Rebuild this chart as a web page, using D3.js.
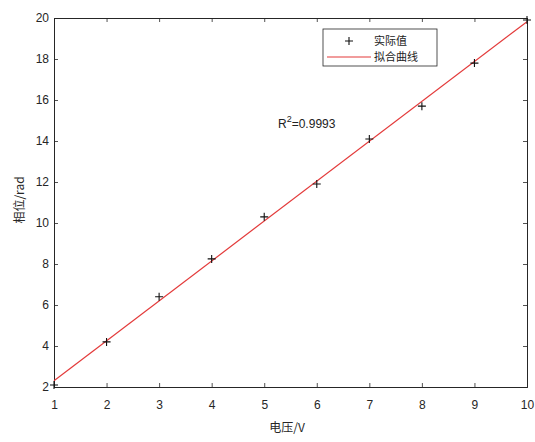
<!DOCTYPE html>
<html>
<head>
<meta charset="utf-8">
<script src="https://cdn.jsdelivr.net/npm/d3@7"></script>
<style>
  body { margin: 0; background: #fff; }
  text { font-family: "Liberation Sans", Arial, sans-serif; }
</style>
</head>
<body>
<svg width="535" height="442"></svg>
<script>
// Measured points (voltage vs phase)
const voltage = [1, 2, 3, 4, 5, 6, 7, 8, 9, 10];
const phase = [2.1, 4.2, 6.4, 8.25, 10.3, 11.9, 14.1, 15.7, 17.8, 19.9];
const xTicks = [1, 2, 3, 4, 5, 6, 7, 8, 9, 10];
const yTicks = [2, 4, 6, 8, 10, 12, 14, 16, 18, 20];
const legendLabels = ["实际值", "拟合曲线"];
const r2Label = "0.9993";

const svg = d3.select('svg');
const margin = { top: 18, right: 8, bottom: 55, left: 54 };
const width = +svg.attr('width') - margin.left - margin.right;
const height = +svg.attr('height') - margin.top - margin.bottom;

const xScale = d3.scaleLinear().domain([1, 10]).range([0, width]);
const yScale = d3.scaleLinear().domain([2, 20]).range([height, 0]);

const g = svg.append("g")
  .attr("transform", `translate(${margin.left}, ${margin.top})`);

// Least squares fit of the measured points
const mx = d3.mean(voltage), my = d3.mean(phase);
const sxy = d3.sum(voltage, (x, i) => (x - mx) * (phase[i] - my));
const sxx = d3.sum(voltage, x => (x - mx) * (x - mx));
const slope = sxy / sxx;
const intercept = my - slope * mx;

const axisColor = "#262626";

// Axes (box style with ticks on all sides)
const xAxis = g.append("g")
  .attr("transform", `translate(0, ${height})`)
  .call(d3.axisBottom(xScale).tickValues(xTicks).tickSize(-4).tickPadding(13));
const yAxis = g.append("g")
  .call(d3.axisLeft(yScale).tickValues(yTicks).tickSize(-4).tickPadding(5));
const xTop = g.append("g")
  .call(d3.axisTop(xScale).tickValues(xTicks).tickSize(-4).tickFormat(""));
const yRight = g.append("g")
  .attr("transform", `translate(${width}, 0)`)
  .call(d3.axisRight(yScale).tickValues(yTicks).tickSize(-4).tickFormat(""));

[xAxis, yAxis, xTop, yRight].forEach(a => {
  a.selectAll("path").attr("stroke", axisColor).attr("stroke-width", 1);
  a.selectAll("line").attr("stroke", axisColor).attr("stroke-width", 0.8);
  a.selectAll("text").attr("fill", axisColor).style("font-size", "12px");
});

// Fit line
g.append("line")
  .attr("x1", xScale(1)).attr("y1", yScale(slope * 1 + intercept))
  .attr("x2", xScale(10)).attr("y2", yScale(slope * 10 + intercept))
  .attr("stroke", "#e33a3a")
  .attr("stroke-width", 1.2);

// Data markers '+'
const ms = 4;
g.selectAll(".pt").data(voltage).enter().append("path")
  .attr("class", "pt")
  .attr("d", `M${-ms},0H${ms}M0,${-ms}V${ms}`)
  .attr("transform", (d, i) => `translate(${xScale(d)}, ${yScale(phase[i])})`)
  .attr("stroke", "#111")
  .attr("stroke-width", 1.1);

// R^2 annotation
const r2 = g.append("text")
  .attr("x", 278 - margin.left)
  .attr("y", 128 - margin.top)
  .attr("fill", "#222")
  .style("font-size", "12px");
r2.append("tspan").text("R");
r2.append("tspan").attr("dy", -6).style("font-size", "9px").text("2");
r2.append("tspan").attr("dy", 6).text("=" + r2Label);

// Legend
const lg = svg.append("g").attr("transform", "translate(323, 29)");
lg.append("rect")
  .attr("width", 114).attr("height", 37)
  .attr("fill", "#fff").attr("stroke", axisColor).attr("stroke-width", 0.8);
lg.append("path")
  .attr("d", `M${26 - ms},12H${26 + ms}M26,${12 - ms}V${12 + ms}`)
  .attr("stroke", "#111").attr("stroke-width", 1.1);
lg.append("line")
  .attr("x1", 4).attr("x2", 48).attr("y1", 28).attr("y2", 28)
  .attr("stroke", "#e33a3a").attr("stroke-width", 1.2);
lg.selectAll(".lt").data(legendLabels).enter().append("text")
  .attr("class", "lt")
  .attr("x", 51)
  .attr("y", (d, i) => 16 + i * 16)
  .attr("fill", "#222")
  .style("font-family", "'Noto Sans CJK SC', sans-serif")
  .style("font-size", "11px")
  .text(d => d);

// Axis labels
svg.append("text")
  .attr("x", 287).attr("y", 432)
  .attr("text-anchor", "middle")
  .attr("fill", axisColor)
  .style("font-family", "'Noto Sans CJK SC', sans-serif")
  .style("font-size", "12px")
  .text("电压/V");
svg.append("text")
  .attr("transform", "translate(24, 200) rotate(-90)")
  .attr("text-anchor", "middle")
  .attr("fill", axisColor)
  .style("font-family", "'Noto Sans CJK SC', sans-serif")
  .style("font-size", "12px")
  .text("相位/rad");
</script>
</body>
</html>
